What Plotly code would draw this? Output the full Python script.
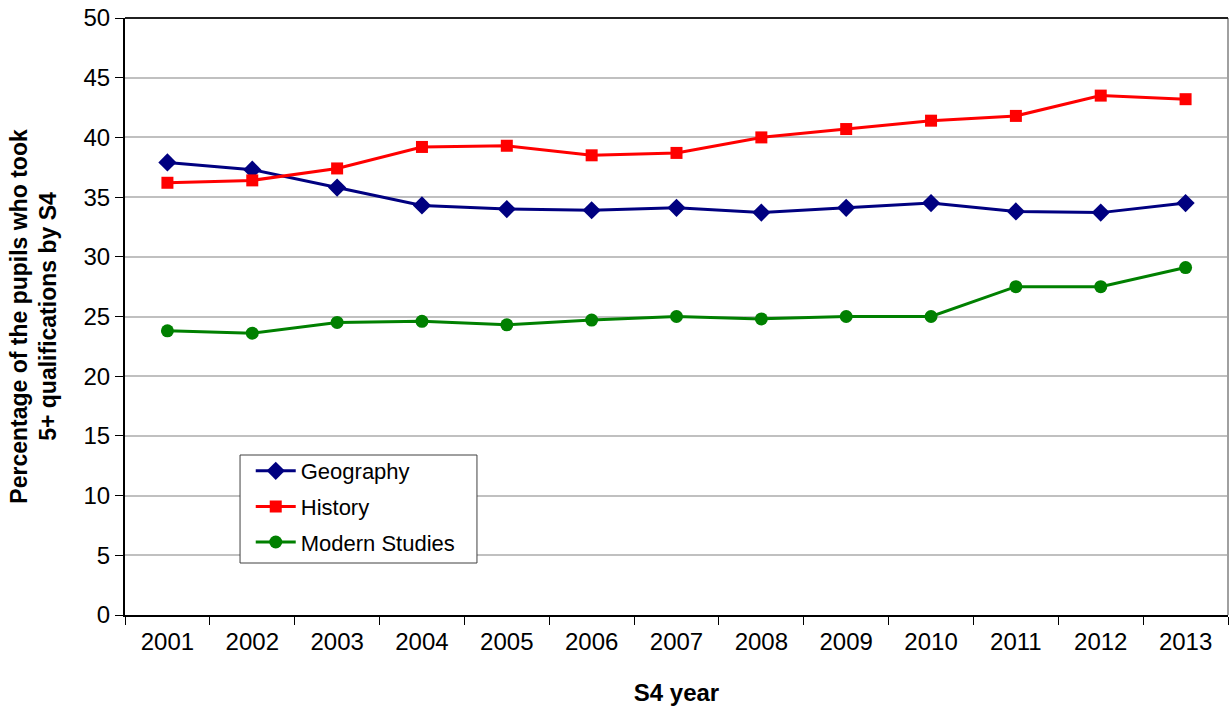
import plotly.graph_objects as go

years = ["2001", "2002", "2003", "2004", "2005", "2006", "2007", "2008", "2009", "2010", "2011", "2012", "2013"]
geography = [37.9, 37.3, 35.8, 34.3, 34.0, 33.9, 34.1, 33.7, 34.1, 34.5, 33.8, 33.7, 34.5]
history = [36.2, 36.4, 37.4, 39.2, 39.3, 38.5, 38.7, 40.0, 40.7, 41.4, 41.8, 43.5, 43.2]
modern_studies = [23.8, 23.6, 24.5, 24.6, 24.3, 24.7, 25.0, 24.8, 25.0, 25.0, 27.5, 27.5, 29.1]

font_family = "Liberation Sans, Arial, sans-serif"

fig = go.Figure()
fig.add_trace(go.Scatter(x=years, y=geography, name="Geography", mode="lines+markers",
                         legendgroup="g1",
                         line=dict(color="#000080", width=3),
                         marker=dict(symbol="diamond", size=14, color="#000080")))
fig.add_trace(go.Scatter(x=years, y=history, name="History", mode="lines+markers",
                         legendgroup="g2",
                         line=dict(color="#FF0000", width=3),
                         marker=dict(symbol="square", size=12, color="#FF0000")))
fig.add_trace(go.Scatter(x=years, y=modern_studies, name="Modern Studies", mode="lines+markers",
                         legendgroup="g3",
                         line=dict(color="#008000", width=3),
                         marker=dict(symbol="circle", size=13, color="#008000")))

fig.update_layout(
    width=1229, height=707,
    paper_bgcolor="white", plot_bgcolor="white",
    margin=dict(l=125, r=1, t=18, b=92, autoexpand=False),
    font=dict(family=font_family, size=24, color="black"),
    showlegend=True,
    legend=dict(x=0.114, y=0.2764, xanchor="left", yanchor="top",
                borderwidth=0, bgcolor="rgba(0,0,0,0)",
                traceorder="grouped", tracegroupgap=4,
                font=dict(size=22), itemwidth=40),
    xaxis=dict(
        type="category", range=[-0.5, 12.5],
        showline=True, linecolor="black", linewidth=2,
        ticks="outside", ticklen=8, tickcolor="black",
        tickson="boundaries", showgrid=False,
        title=dict(text="<b>S4 year</b>", font=dict(size=24), standoff=30),
        tickfont=dict(size=24), automargin=False, ticklabelstandoff=4,
    ),
    yaxis=dict(
        range=[0, 50], dtick=5,
        showline=True, linecolor="black", linewidth=2,
        ticks="outside", ticklen=8, tickcolor="black",
        showgrid=True, gridcolor="#C0C0C0", gridwidth=2,
        zeroline=False,
        title=dict(text="<b>Percentage of the pupils who took<br>5+ qualifications by S4</b>",
                   font=dict(size=23), standoff=20),
        tickfont=dict(size=24), automargin=False,
    ),
)

# right border and top edge of plot area
fig.add_shape(type="line", xref="paper", yref="paper", x0=1, x1=1, y0=0, y1=1,
              line=dict(color="#A0A0A0", width=2))
fig.add_shape(type="line", xref="paper", yref="paper", x0=0, x1=1, y0=1, y1=1,
              line=dict(color="#202020", width=2))
# legend frame
fig.add_shape(type="rect", xref="paper", yref="paper", x0=0.1043, x1=0.3191, y0=0.0871, y1=0.268,
              line=dict(color="#404040", width=1), fillcolor="white", layer="above")

fig.write_html("out.html", config={"displayModeBar": False},
               post_script="document.body.style.margin='0';")
